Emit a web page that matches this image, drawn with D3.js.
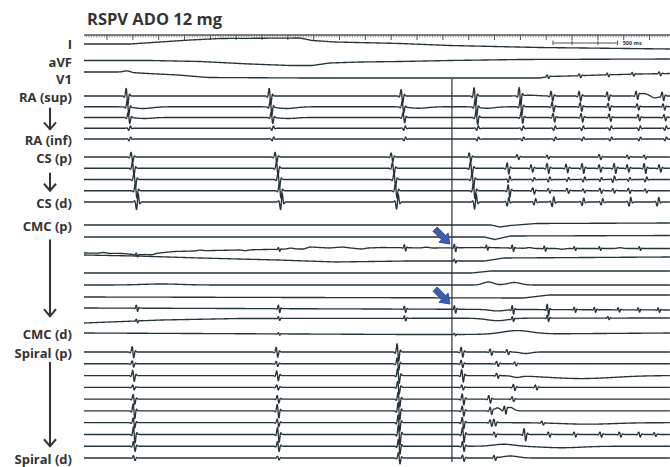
<!DOCTYPE html>
<meta charset="utf-8">
<head>
<script src="https://cdn.jsdelivr.net/npm/d3@7"></script>
<style>
  body { margin: 0; background: #fff; }
  text { font-family: "Open Sans", sans-serif; font-weight: 700; fill: #333; }
  .trace { fill: none; stroke: #26343b; stroke-width: 1.35; }
</style>
</head>
<body>
<div id="my_dataviz"></div>
<script>
// ---- data (times in ms, amplitudes in mV) ----
const totalMs = 4536;
const markerTime = 2848;

const labelText = ["I", "aVF", "V1", "RA (sup)", "RA (inf)", "CS (p)", "CS (d)", "CMC (p)", "CMC (d)", "Spiral (p)", "Spiral (d)"];
const labelRow = [0, 1, 2, 3, 7, 8, 12, 13, 22, 23, 32];
const groupArrows = [[4.1, 6.1], [9.4, 11.0], [14.2, 20.6], [23.85, 31.0]];
const blueArrowRows = [15, 20];

// surface ECG: slow baseline only
const ecgDrift = [
  [[0, 0], [356, 0], [820, 0.8], [1053, 1.1], [1672, 1.2], [1765, 0.7], [1943, 0.4], [2446, 0.1], [2833, -0.3], [3529, -0.7], [4536, -1.0]],
  [[0, -0.4], [511, -0.4], [898, -0.6], [1285, -1.1], [1594, -1.4], [1765, -1.4], [1904, -0.9], [2136, -0.7], [2446, -0.6], [2833, -0.4], [3375, -0.2], [4536, -0.1]],
  [[0, 0.2], [279, 0.2], [496, -0.1], [728, -0.4], [960, -0.9], [1733, -1.0], [3529, -1.0], [3591, -0.7], [3761, -0.6], [3994, -0.4], [4303, -0.2], [4536, -0.1]]
];
const v1Spikes = [[3591, 0.3], [3839, 0.3], [4056, 0.3], [4250, 0.3], [4458, 0.3]];
const v1Waves = [[333, 0.3, 25]];

// right atrium
const raBeats = [333, 1440, 2461, 3026, 3375, 3622, 3839, 4056, 4280, 4481];
const raDelay = [0, 8, 15, 20, 22];
const raAmp = [
  [1.3, 1.3, 1.1, 1.4, 1.4, 0.8, 0.8, 0.7, 0.7, 0.7],
  [1.1, 1.2, 0.9, 1.2, 1.2, 0.8, 0.7, 0.6, 0.5, 0.5],
  [0.9, 0.9, 0.8, 1.1, 0.9, 0.7, 0.7, 0.6, 0.5, 0.5],
  [-0.35, -0.35, -0.35, -0.35, -0.35, -0.35, -0.35, -0.35, -0.35, -0.35],
  [-0.3, -0.3, -0.3, -0.3, -0.3, -0.3, -0.3, -0.3, -0.3, -0.3]
];
const raWaves = [
  [[3450, 0.15, 60], [4330, 0.5, 35], [4420, -0.4, 25]],
  [[460, -0.35, 70], [1570, -0.35, 70], [2590, -0.3, 70], [3120, -0.3, 60]],
  [[470, -0.2, 60], [1580, -0.2, 60]],
  [], []
];

// coronary sinus
const csBeats = [371, 1486, 2384, 2988];
const csDelay = [0, 10, 22, 32, 42];
const csAmp = [
  [0.8, 0.8, 0.7, 0.7],
  [1.1, 1.1, 1.0, 1.2],
  [1.1, 1.1, 1.1, 1.1],
  [1.1, 1.1, 1.1, 1.2],
  [-1.3, -1.3, -1.2, -1.2]
];
const csFast = [
  [[3359, 0.4], [3591, 0.3], [3994, 0.4], [4211, 0.3], [4342, 0.3]],
  [[3282, 0.9], [3467, 0.6], [3591, 0.8], [3738, 0.7], [3862, 0.8], [3994, 0.6], [4110, 0.8], [4211, 0.6], [4342, 0.8], [4458, 0.6]],
  [[3290, -0.5], [3480, -0.3], [3600, -0.4], [3745, -0.3], [3870, -0.4], [4000, -0.3], [4100, -0.5], [4220, -0.3], [4350, -0.4]],
  [[3290, 1.0], [3480, 0.5], [3600, 0.35], [3745, 0.4], [3870, 0.3], [4000, 0.4], [4100, 0.35], [4220, 0.4], [4350, 0.3]],
  [[3282, -0.7], [3490, -0.5], [3630, -0.8], [3862, -0.6], [4009, -0.5], [4226, -0.7], [4443, -0.7]]
];

// CMC catheter
const cmcSpikes = [
  [], [],
  [[410, 0.3], [1510, 0.3], [2485, 0.5], [2872, 0.6], [3120, 0.4], [3320, 0.5], [3568, 0.4], [3800, 0.3], [3994, 0.3], [4303, 0.3]],
  [[2872, 0.3]],
  [], [], [],
  [[410, 0.5], [1510, 0.6], [2485, 0.5], [2872, 0.6], [3320, 0.7], [3591, 0.9], [3800, 0.4], [3955, 0.4], [4140, 0.35], [4295, 0.35], [4450, 0.35]],
  [[410, 0.3], [1510, 0.3], [2485, 0.4], [3320, 0.4], [3591, 0.5], [4060, 0.25]],
  [[1510, 0.2], [2872, 0.2]]
];
const cmcWaves = [
  [], [],
  [[150, 0.15, 20], [520, -0.2, 25], [900, 0.15, 20], [1250, -0.15, 20], [1600, 0.2, 25], [2150, -0.15, 20], [2650, 0.15, 20], [3450, 0.15, 20], [3700, -0.15, 20], [4150, 0.15, 20]],
  [], [],
  [[600, 0.2, 150], [3130, 0.6, 40], [3330, 0.5, 50]],
  [],
  [[3200, -0.3, 60]],
  [[3200, -0.5, 80]],
  [[3350, 0.7, 110]]
];
const cmcDrift = [
  [[0, 0], [3150, 0], [3220, -0.4], [3300, -0.1], [3500, 0.3], [4536, 0.4]],
  [[0, 0], [3100, 0], [3180, -0.5], [3300, 0.2], [4536, 0.3]],
  [[0, -0.8], [300, -0.9], [420, -1.2], [700, -0.5], [1000, -0.3], [1400, -0.1], [1700, 0.0], [1750, 0.4], [1900, 0.2], [2000, 0.4], [2100, 0.1], [2300, 0.3], [2700, 0.2], [3100, 0.3], [3500, 0.1], [4536, 0.1]],
  [[0, 1.2], [400, 1.0], [900, 0.6], [1500, 0.2], [1950, -0.2], [2500, 0], [3100, 0], [3250, 0.6], [4536, 0.8]],
  [[0, 0], [3000, 0], [3150, 0.4], [4536, 0.4]],
  [[0, 0], [4536, 0]],
  [[0, 0], [3400, -0.2], [3600, 0.4], [4536, 0.4]],
  [[0, 0.2], [4536, -0.2]],
  [[0, -0.4], [600, 0.2], [1200, 0.5], [4536, 0.6]],
  [[0, 0], [2500, -0.3], [2900, -0.3], [4536, 0]]
];

// spiral catheter
const spBeats = [379, 1494, 2430, 2926];
const spDelay = [0, 0, 4, 4, 8, 8, 8, 10, 10, 10];
const spAmp = [
  [0.9, 0.8, 1.4, 0.8],
  [0.5, 0.4, 1.0, 0.6],
  [0.9, 0.8, 1.2, 1.0],
  [0.4, 0.4, 1.0, 0.4],
  [0.8, 0.6, 1.2, 0.9],
  [1.2, 1.1, 1.4, 0.8],
  [0.8, 0.6, 1.3, 0.9],
  [1.3, 1.2, 1.6, 1.2],
  [0.8, 0.8, 1.2, 0.8],
  [0.4, 0.3, 0.9, 0.5]
];
const spFrag = [
  [[3150, 0.5], [3280, 0.4]],
  [[3200, 0.4], [3340, 0.3]],
  [[3200, 0.4]],
  [[3330, 0.5], [3500, 0.4]],
  [[3140, 0.6], [3320, 0.4]],
  [[3150, 0.6], [3260, 0.7]],
  [[3150, 0.5], [3180, 0.5], [3550, 0.3]],
  [[3181, 0.4], [3413, 1.0], [3600, 0.4], [3800, 0.4], [4000, 0.4], [4150, 0.4], [4300, 0.4], [4420, 0.3]],
  [],
  [[3180, 0.4]]
];
const spWaves = [
  [[3420, -0.3, 40]],
  [],
  [[3350, -0.3, 30], [3850, -0.6, 250]],
  [],
  [],
  [[3200, 0.6, 20], [3300, 0.7, 25]],
  [[3900, -0.3, 200]],
  [],
  [[3250, 0.4, 80], [3700, -0.3, 150]],
  [[3300, 0.4, 60]]
];

// ---- layout ----
const width = 670, height = 467;
const rowLayout = [
  { n: 3, start: 44, step: 14.5 },
  { n: 5, start: 96, step: 10.75 },
  { n: 5, start: 157, step: 11.25 },
  { n: 10, start: 225, step: 12 },
  { n: 10, start: 352, step: 11.78 }
];
const ecgLabelStart = 44.5, ecgLabelStep = 17.6;
const baseY = [];
rowLayout.forEach(g => { for (let i = 0; i < g.n; i++) baseY.push(g.start + i * g.step); });
function yAt(r) {
  const i = Math.floor(r), f = r - i;
  return i + 1 < baseY.length ? baseY[i] + f * (baseY[i + 1] - baseY[i]) : baseY[i];
}

var x = d3.scaleLinear().domain([0, totalMs]).range([84, 670]);

// build channel list
const channels = [];
ecgDrift.forEach((d, i) => channels.push({ drift: d, spikes: i === 2 ? v1Spikes : [], waves: i === 2 ? v1Waves : [], w: 6 }));
raAmp.forEach((amps, c) => channels.push({
  drift: [[0, 0], [totalMs, 0]],
  spikes: raBeats.map((t, k) => [t + raDelay[c], amps[k]]),
  waves: raWaves[c], w: 6 }));
csAmp.forEach((amps, c) => channels.push({
  drift: [[0, 0], [totalMs, 0]],
  spikes: csBeats.map((t, k) => [t + csDelay[c], amps[k]]).concat(csFast[c]),
  waves: [], w: 6 }));
cmcDrift.forEach((d, c) => channels.push({ drift: d, spikes: cmcSpikes[c], waves: cmcWaves[c], w: 5 }));
spAmp.forEach((amps, c) => channels.push({
  drift: [[0, 0], [totalMs, 0]],
  spikes: spBeats.map((t, k) => [t + spDelay[c], amps[k]]).concat(spFrag[c]),
  waves: spWaves[c], w: 6 }));

// multiphasic deflection template
function spikeShape(dt, a, w) {
  const u = dt / w, u2 = (dt - 2.2 * w) / w, u3 = (dt + 2.5 * w) / w;
  return a * (-u * Math.exp(0.5 - 0.5 * u * u)
    + 0.3 * u2 * Math.exp(0.5 - 0.5 * u2 * u2)
    + 0.2 * u3 * Math.exp(0.5 - 0.5 * u3 * u3));
}

var svg = d3.select("#my_dataviz").append("svg")
  .attr("width", width).attr("height", height);

// title
svg.append("text").attr("x", 87).attr("y", 25)
  .style("font-size", "16.5px").text("RSPV ADO 12 mg");

// time ruler
var ruler = svg.append("g").attr("transform", "translate(0,35)");
ruler.append("line").attr("x1", 84).attr("x2", 670).attr("stroke", "#555").attr("stroke-width", 1.4);
ruler.selectAll(".minor").data(d3.range(18, totalMs, 20)).enter().append("line")
  .attr("x1", d => x(d)).attr("x2", d => x(d)).attr("y1", 0).attr("y2", 2.5)
  .attr("stroke", "#666").attr("stroke-width", 0.7);
ruler.selectAll(".major").data(d3.range(178, totalMs, 200)).enter().append("line")
  .attr("x1", d => x(d)).attr("x2", d => x(d)).attr("y1", 0).attr("y2", 5)
  .attr("stroke", "#555").attr("stroke-width", 1);

// 500 ms scale bar
var sb = svg.append("g");
sb.append("line").attr("x1", x(3630)).attr("x2", x(4130)).attr("y1", 43).attr("y2", 43).attr("stroke", "#555").attr("stroke-width", 1.1);
[3630, 3778, 3978, 4130].forEach(t => sb.append("line").attr("x1", x(t)).attr("x2", x(t)).attr("y1", 40.5).attr("y2", 45).attr("stroke", "#555"));
sb.append("text").attr("x", x(4170)).attr("y", 45).style("font-size", "5.5px").text("500 ms");

// traces
var line = d3.line().x(d => x(d[0])).y(d => d[1]);
channels.forEach((ch, i) => {
  const drift = d3.scaleLinear().domain(ch.drift.map(d => d[0])).range(ch.drift.map(d => d[1])).clamp(true);
  const yv = d3.scaleLinear().domain([-1, 1]).range([baseY[i] + 5, baseY[i] - 5]);
  let ts = d3.range(0, totalMs + 1, 5);
  ch.spikes.forEach(s => { for (let d = -40; d <= 40; d += 0.5) ts.push(s[0] + d); });
  ts = ts.filter(t => t >= 0 && t <= totalMs).sort(d3.ascending);
  const pts = ts.map(t => {
    let v = drift(t);
    ch.spikes.forEach(([t0, a]) => { const dt = t - t0; if (Math.abs(dt) < 45) v += spikeShape(dt, a, ch.w); });
    ch.waves.forEach(([t0, a, w]) => { v += a * Math.exp(-0.5 * ((t - t0) / w) ** 2); });
    return [t, yv(v)];
  });
  svg.append("path").attr("class", "trace").attr("d", line(pts));
});

// marker line
svg.append("line").attr("x1", x(markerTime)).attr("x2", x(markerTime))
  .attr("y1", baseY[3] - 17).attr("y2", 462).attr("stroke", "#26343b").attr("stroke-width", 1.2);

// blue arrows
blueArrowRows.forEach(r => {
  svg.append("polygon")
    .attr("points", "0,0 -9,-6.5 -9,-3 -21,-3 -21,3 -9,3 -9,6.5")
    .attr("transform", "translate(" + (x(markerTime) - 2) + "," + (baseY[r] - 5) + ") rotate(45)")
    .attr("fill", "#3a5db4").attr("stroke", "#26408a").attr("stroke-width", 0.8);
});

// labels (ECG labels are stacked a little apart from their traces)
svg.selectAll(".lab").data(labelText).enter().append("text")
  .attr("x", 72)
  .attr("y", (d, i) => labelRow[i] < 3 ? ecgLabelStart + labelRow[i] * ecgLabelStep : baseY[labelRow[i]] + 1)
  .attr("dy", "0.35em").attr("text-anchor", "end")
  .style("font-size", "13px").text(d => d);

// group arrows
groupArrows.forEach(([a, b]) => {
  const y1 = yAt(a), y2 = yAt(b);
  svg.append("line").attr("x1", 50).attr("x2", 50).attr("y1", y1).attr("y2", y2)
    .attr("stroke", "#333").attr("stroke-width", 2);
  svg.append("path").attr("d", "M44," + (y2 - 7) + "L50," + y2 + "L56," + (y2 - 7))
    .attr("fill", "none").attr("stroke", "#333").attr("stroke-width", 2);
});
</script>
</body>
